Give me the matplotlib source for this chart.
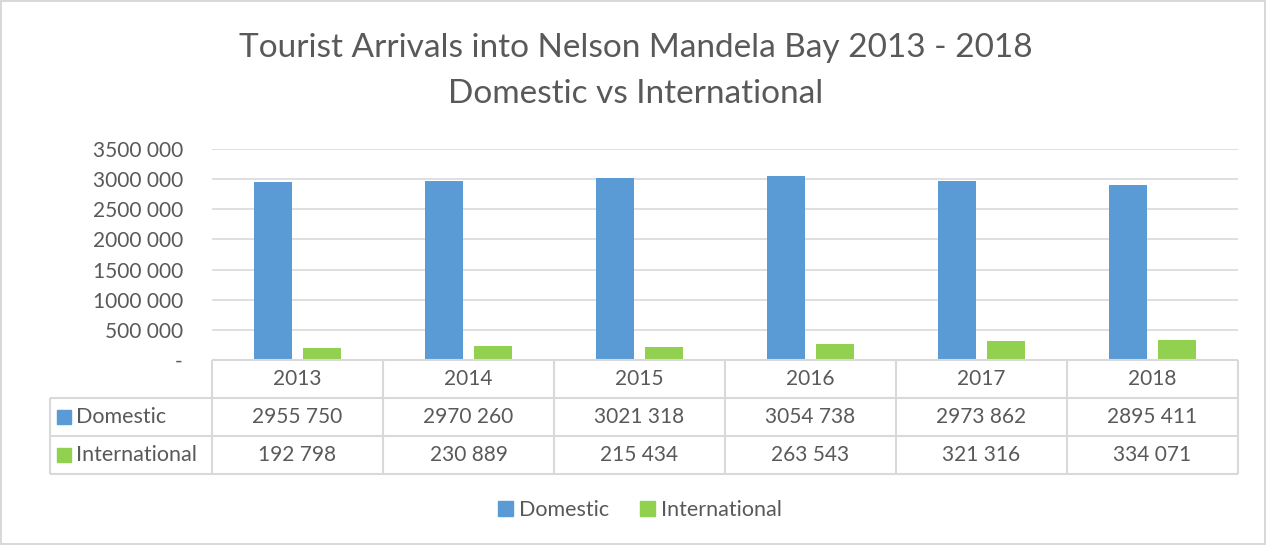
import numpy as np
import matplotlib.pyplot as plt
from matplotlib.patches import Rectangle
import matplotlib.transforms as mtrans

plt.rcParams['font.family'] = ['Lato', 'DejaVu Sans']

years = ['2013', '2014', '2015', '2016', '2017', '2018']
domestic = [2955750, 2970260, 3021318, 3054738, 2973862, 2895411]
international = [192798, 230889, 215434, 263543, 321316, 334071]
series_names = ['Domestic', 'International']
colors = ['#5B9BD5', '#92D050']
text_col = '#595959'
grid_col = '#D9D9D9'


def fmt(v):
    if v == 0:
        return '-'
    return f"{v // 1000} {v % 1000:03d}"


W, H = 1266, 545
fig = plt.figure(figsize=(W / 100, H / 100), dpi=100)
fig.patch.set_edgecolor(grid_col)
fig.patch.set_linewidth(1.5)

# axes in pixel layout
left, right, top, bottom = 212, 1238, 149, 360
ax = fig.add_axes([left / W, 1 - bottom / H, (right - left) / W, (bottom - top) / H])

x = np.arange(len(years))
bw = 0.225
off = 0.143
ax.bar(x - off, domestic, bw, color=colors[0])
ax.bar(x + off, international, bw, color=colors[1])

ax.set_xlim(-0.5, len(years) - 0.5)
ax.set_ylim(0, 3500000)
ticks = np.arange(0, 3500001, 500000)
ax.set_yticks(ticks)
ax.set_yticklabels([fmt(int(t)) for t in ticks])
ax.tick_params(axis='y', length=0, pad=21, labelsize=15, labelcolor=text_col)
ax.set_xticks([])
ax.grid(axis='y', color=grid_col, lw=1.2)
ax.set_axisbelow(True)
for s in ax.spines.values():
    s.set_visible(False)

# data table below axes
row_h = 38 / (bottom - top)
n_rows = 3
tb = -n_rows * row_h
x_left = (50 - left) / (right - left)
blend = mtrans.blended_transform_factory(ax.transData, ax.transAxes)
lkw = dict(color=grid_col, lw=1.5, clip_on=False, solid_capstyle='butt')

ax.plot([0, 1], [0, 0], transform=ax.transAxes, **lkw)
for r in range(1, n_rows + 1):
    ax.plot([x_left, 1], [-r * row_h, -r * row_h], transform=ax.transAxes, **lkw)
for b in np.arange(-0.5, len(years), 1.0):
    ax.plot([b, b], [0, tb], transform=blend, **lkw)
ax.plot([x_left, x_left], [-row_h, tb], transform=ax.transAxes, **lkw)

tkw = dict(ha='center', va='center', fontsize=15, color=text_col, clip_on=False)
for i, yr in enumerate(years):
    ax.text(i, -0.5 * row_h, yr, transform=blend, **tkw)
    ax.text(i, -1.5 * row_h, fmt(domestic[i]), transform=blend, **tkw)
    ax.text(i, -2.5 * row_h, fmt(international[i]), transform=blend, **tkw)

# row headers with colour keys
key_w = 14 / (right - left)
key_h = 14 / (bottom - top)
kx = (57 - left) / (right - left)
for r, (name, c) in enumerate(zip(series_names, colors)):
    yc = -(r + 1.5) * row_h
    ax.add_patch(Rectangle((kx, yc - key_h / 2), key_w, key_h, transform=ax.transAxes,
                           color=c, clip_on=False))
    ax.text(kx + key_w + 5 / (right - left), yc, name, transform=ax.transAxes,
            ha='left', va='center', fontsize=15.5, color=text_col)

# title
fig.text(636 / W, 1 - 48 / H, 'Tourist Arrivals into Nelson Mandela Bay 2013 - 2018',
         ha='center', va='center', fontsize=24, color=text_col)
fig.text(636 / W, 1 - 94 / H, 'Domestic vs International',
         ha='center', va='center', fontsize=24, color=text_col)

# legend
handles = [Rectangle((0, 0), 1, 1, color=c) for c in colors]
fig.legend(handles, series_names, loc='center', bbox_to_anchor=(640 / W, 1 - 510 / H),
           ncol=2, frameon=False, fontsize=15.5, labelcolor=text_col,
           handlelength=0.7, handleheight=0.7, handletextpad=0.3, columnspacing=1.4)

fig.savefig('out.png', dpi=100)
